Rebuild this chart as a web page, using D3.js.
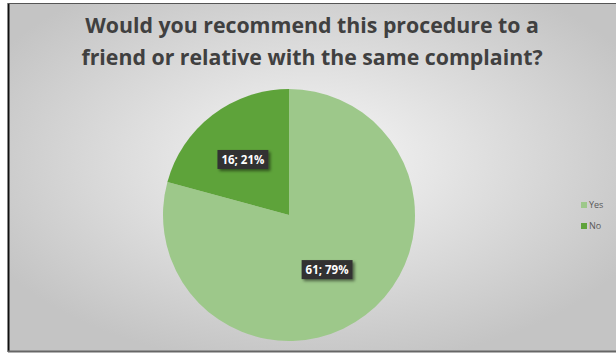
<!DOCTYPE html>
<html><head><meta charset="utf-8">
<script src="https://cdn.jsdelivr.net/npm/d3@7"></script>
<style>html,body{margin:0;padding:0;background:#fff;}svg{display:block;}</style>
</head><body>
<script>
const categories = ["Yes", "No"];
const values = [61, 16];
const percents = ["79%", "21%"];
const colors = ["#9dc88a", "#5ea33a"];
const titleLines = ["Would you recommend this procedure to a", "friend or relative with the same complaint?"];

const W = 616, H = 353;
const svg = d3.select("body").append("svg").attr("width", W).attr("height", H);
const defs = svg.append("defs");
const grad = defs.append("radialGradient").attr("id","bg").attr("cx","50%").attr("cy","45%").attr("r","60%");
grad.append("stop").attr("offset","0%").attr("stop-color","#f7f7f7");
grad.append("stop").attr("offset","100%").attr("stop-color","#c4c4c4");
const shadow = defs.append("filter").attr("id","sh").attr("x","-20%").attr("y","-20%").attr("width","150%").attr("height","160%");
shadow.append("feDropShadow").attr("dx",2).attr("dy",2).attr("stdDeviation",1.5).attr("flood-color","#000").attr("flood-opacity",0.5);

svg.append("rect").attr("x",0).attr("y",0).attr("width",W).attr("height",H).attr("fill","#fff");
svg.append("rect").attr("x",8).attr("y",4).attr("width",W-8).attr("height",347).attr("fill","url(#bg)");
svg.append("line").attr("x1",8.5).attr("x2",8.5).attr("y1",3).attr("y2",352).attr("stroke","#111").attr("stroke-width",2);
svg.append("line").attr("x1",8).attr("x2",W).attr("y1",3.5).attr("y2",3.5).attr("stroke","#555").attr("stroke-width",1);
svg.append("line").attr("x1",8).attr("x2",W).attr("y1",351.5).attr("y2",351.5).attr("stroke","#666").attr("stroke-width",2);

svg.append("g").selectAll("text").data(titleLines).join("text")
  .attr("x", 312).attr("y",(d,i)=>33+i*32)
  .attr("text-anchor","middle")
  .attr("font-family","Open Sans, Lato, sans-serif").attr("font-weight","bold")
  .attr("font-size",21.3).attr("fill","#404040").text(d=>d);

const cx = 289, cy = 215, r = 126;
const data = categories.map((c,i)=>({cat:c, value:values[i], pct:percents[i], color:colors[i]}));
const pie = d3.pie().value(d=>d.value).sort(null);
const arc = d3.arc().innerRadius(0).outerRadius(r);
const arcs = pie(data);
const g = svg.append("g").attr("transform",`translate(${cx},${cy})`);
g.selectAll("path").data(arcs).join("path").attr("d",arc).attr("fill",d=>d.data.color);

const labelArc = d3.arc().innerRadius(r*0.55).outerRadius(r*0.55);
const lbl = g.selectAll("g.lbl").data(arcs).join("g").attr("class","lbl")
  .attr("transform",d=>{const [x,y]=labelArc.centroid(d); return `translate(${x-4},${y})`;});
lbl.each(function(d){
  const sel = d3.select(this);
  const txt = `${d.data.value}; ${d.data.pct}`;
  const rect = sel.append("rect").attr("fill","#333").attr("filter","url(#sh)");
  const t = sel.append("text").attr("text-anchor","middle").attr("dy","0.35em")
    .attr("font-family","Open Sans, Lato, sans-serif").attr("font-weight","bold")
    .attr("font-size",11.5).attr("fill","#fff").text(txt);
  const bb = t.node().getBBox();
  rect.attr("x",bb.x-4).attr("y",bb.y-2).attr("width",bb.width+8).attr("height",bb.height+4);
});

const leg = svg.append("g").selectAll("g").data(data).join("g")
  .attr("transform",(d,i)=>`translate(581,${205+i*21})`);
leg.append("rect").attr("x",0).attr("y",-3).attr("width",6).attr("height",6).attr("fill",d=>d.color);
leg.append("text").attr("x",8).attr("dy","0.35em").attr("font-family","Open Sans, Lato, sans-serif")
  .attr("font-size",9).attr("fill","#595959").text(d=>d.cat);
</script>
</body></html>
